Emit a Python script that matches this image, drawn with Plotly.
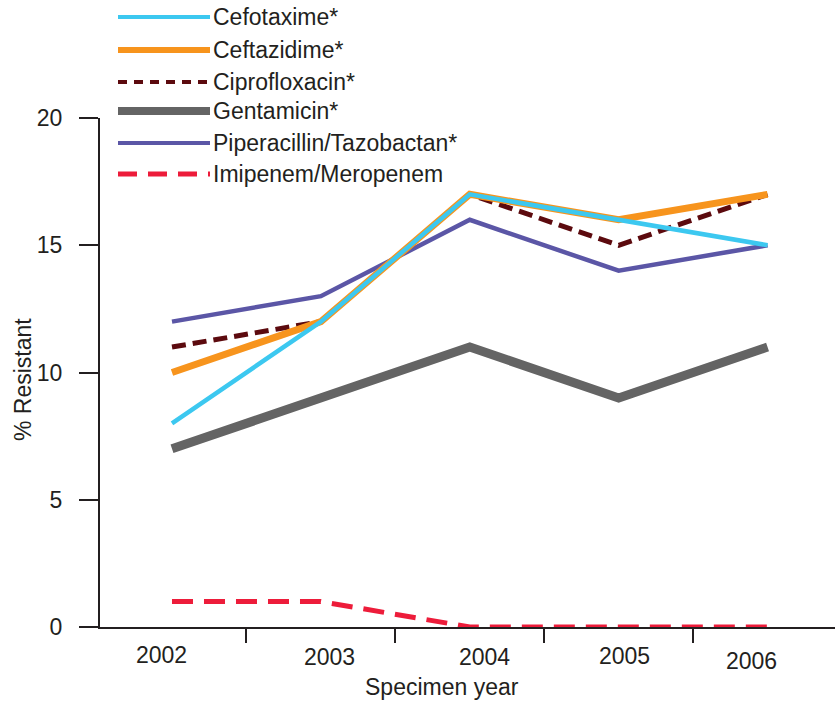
import plotly.graph_objects as go

# ---- data ----
years = [2002, 2003, 2004, 2005, 2006]
series_names = ["Cefotaxime*", "Ceftazidime*", "Ciprofloxacin*", "Gentamicin*",
                "Piperacillin/Tazobactan*", "Imipenem/Meropenem"]
cefotaxime = [8, 12, 17, 16, 15]
ceftazidime = [10, 12, 17, 16, 17]
ciprofloxacin = [11, 12, 17, 15, 17]
gentamicin = [7, 9, 11, 9, 11]
piperacillin = [12, 13, 16, 14, 15]
imipenem = [1, 1, 0, 0, 0]
y_ticks = [0, 5, 10, 15, 20]

# ---- styles ----
FONT = "Liberation Sans, Arial, sans-serif"
FS = 23
TXT = "#231f20"
W, H = 835, 701
L, R, T, B = 100, 0, 118, 74
PW, PH = W - L - R, H - T - B

styles = {
    "Cefotaxime*": dict(color="#3cc8f0", width=4.5, dash="solid", lw=4, ldash="solid"),
    "Ceftazidime*": dict(color="#f7941d", width=7, dash="solid", lw=6, ldash="solid"),
    "Ciprofloxacin*": dict(color="#5c0a0e", width=5, dash="14px,7px", lw=4, ldash="9px,7px"),
    "Gentamicin*": dict(color="#646464", width=9, dash="solid", lw=8, ldash="solid"),
    "Piperacillin/Tazobactan*": dict(color="#5b56a6", width=4.5, dash="solid", lw=4, ldash="solid"),
    "Imipenem/Meropenem": dict(color="#ed1c3a", width=5, dash="21px,11px", lw=5, ldash="19px,11px"),
}
values = {
    "Cefotaxime*": cefotaxime,
    "Ceftazidime*": ceftazidime,
    "Ciprofloxacin*": ciprofloxacin,
    "Gentamicin*": gentamicin,
    "Piperacillin/Tazobactan*": piperacillin,
    "Imipenem/Meropenem": imipenem,
}
draw_order = ["Gentamicin*", "Imipenem/Meropenem", "Piperacillin/Tazobactan*",
              "Ciprofloxacin*", "Ceftazidime*", "Cefotaxime*"]

fig = go.Figure()
for name in draw_order:
    s = styles[name]
    fig.add_trace(go.Scatter(
        x=years, y=values[name], mode="lines", name=name, showlegend=False,
        line=dict(color=s["color"], width=s["width"], dash=s["dash"]),
    ))


def px_to_paper(px, py):
    return (px - L) / PW, (H - B - py) / PH


shapes = []
annotations = []

# manual legend
legend_rows_y = [17, 50, 82, 111, 143, 174]
for name, ry in zip(series_names, legend_rows_y):
    s = styles[name]
    x0, y0 = px_to_paper(118, ry)
    x1, _ = px_to_paper(210, ry)
    shapes.append(dict(type="line", xref="paper", yref="paper", x0=x0, x1=x1, y0=y0, y1=y0,
                       line=dict(color=s["color"], width=s["lw"], dash=s["ldash"])))
    tx, _ = px_to_paper(211, ry)
    annotations.append(dict(text=name, xref="paper", yref="paper", x=tx, y=y0,
                            xanchor="left", yanchor="middle", showarrow=False,
                            font=dict(family=FONT, size=FS, color=TXT)))

# x tick labels (placed like the original)
label_xshift = [-10, 9, 15, 6, -16]
label_yshift = [-28, -30, -30, -29, -34]
for yr, dx, dy in zip(years, label_xshift, label_yshift):
    annotations.append(dict(text=str(yr), xref="x", yref="paper", x=yr, y=0,
                            xshift=dx, yshift=dy, xanchor="center", yanchor="middle",
                            showarrow=False, font=dict(family=FONT, size=FS, color=TXT)))

# axis titles
tx, ty = px_to_paper(442, 687)
annotations.append(dict(text="Specimen year", xref="paper", yref="paper", x=tx, y=ty,
                        xanchor="center", yanchor="middle", showarrow=False,
                        font=dict(family=FONT, size=FS, color=TXT)))
tx, ty = px_to_paper(23, 380)
annotations.append(dict(text="% Resistant", xref="paper", yref="paper", x=tx, y=ty,
                        textangle=-90, xanchor="center", yanchor="middle", showarrow=False,
                        font=dict(family=FONT, size=FS, color=TXT)))

fig.update_layout(
    width=W, height=H,
    margin=dict(l=L, r=R, t=T, b=B),
    paper_bgcolor="white", plot_bgcolor="white",
    showlegend=False,
    shapes=shapes,
    annotations=annotations,
    font=dict(family=FONT, size=FS, color=TXT),
    xaxis=dict(
        range=[2001.5165, 2006.453],
        tickmode="array", tickvals=[y - 0.5 for y in years],
        showticklabels=False,
        ticks="outside", ticklen=14, tickwidth=2, tickcolor=TXT,
        showline=True, linecolor=TXT, linewidth=2,
        showgrid=False, zeroline=False,
    ),
    yaxis=dict(
        range=[0, 20],
        tickmode="array", tickvals=y_ticks, ticktext=[str(v) for v in y_ticks],
        ticks="outside", ticklen=19, tickwidth=2, tickcolor=TXT,
        ticklabelstandoff=12,
        tickfont=dict(family=FONT, size=FS, color=TXT),
        showline=True, linecolor=TXT, linewidth=2,
        showgrid=False, zeroline=False,
    ),
)

fig.write_html("out.html", config={"displayModeBar": False},
               post_script="document.body.style.margin='0';document.body.style.overflow='hidden';")
